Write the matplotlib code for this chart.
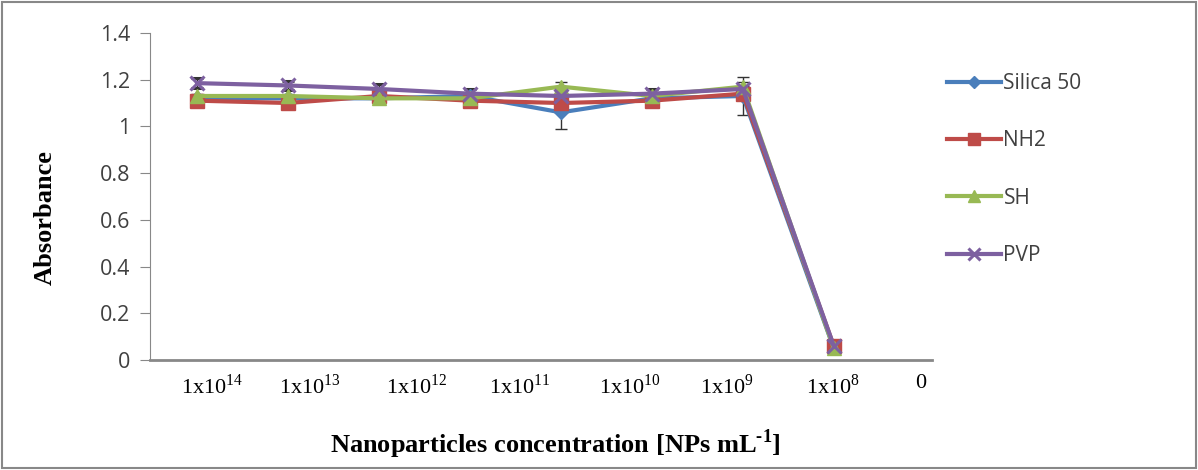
import matplotlib
matplotlib.use('Agg')
import matplotlib.pyplot as plt
from matplotlib.patches import Rectangle
import numpy as np

plt.rcParams['mathtext.fontset'] = 'custom'
plt.rcParams['mathtext.rm'] = 'Liberation Serif'
plt.rcParams['mathtext.bf'] = 'Liberation Serif:bold'

# data
categories = ['1x10$^{14}$', '1x10$^{13}$', '1x10$^{12}$', '1x10$^{11}$',
              '1x10$^{10}$', '1x10$^{9}$', '1x10$^{8}$', '0']
silica50 = [1.12, 1.12, 1.12, 1.13, 1.06, 1.12, 1.13, 0.05]
silica50_err = [0.01, 0.01, 0.01, 0.01, 0.07, 0.01, 0.08, 0.01]
nh2 = [1.11, 1.10, 1.13, 1.11, 1.10, 1.11, 1.14, 0.06]
nh2_err = [0.01, 0.01, 0.01, 0.01, 0.01, 0.01, 0.01, 0.01]
sh = [1.13, 1.13, 1.12, 1.12, 1.17, 1.13, 1.17, 0.05]
sh_err = [0.01, 0.01, 0.01, 0.01, 0.02, 0.01, 0.02, 0.01]
pvp = [1.185, 1.175, 1.16, 1.14, 1.13, 1.14, 1.16, 0.06]
pvp_err = [0.02, 0.02, 0.02, 0.02, 0.01, 0.02, 0.01, 0.01]

series = [('Silica 50', silica50, silica50_err, '#4A7EBB', 'D', 7),
          ('NH2', nh2, nh2_err, '#BE4B48', 's', 10),
          ('SH', sh, sh_err, '#98B954', '^', 10),
          ('PVP', pvp, pvp_err, '#7D60A0', 'x', 10)]

fig = plt.figure(figsize=(11.98, 4.70), dpi=100)
ax = fig.add_axes([0.125, 0.234, 0.653, 0.696])

# the points sit on the first 8 category slots; labels are offset like the original
x = np.arange(len(silica50))
for name, vals, err, col, mk, ms in series:
    ax.errorbar(x, vals, yerr=err, color=col, marker=mk, markersize=ms,
                markeredgewidth=2.2 if mk == 'x' else 1, linewidth=3,
                ecolor='#333333', elinewidth=1, capsize=4, label=name)

ax.set_ylim(0, 1.4)
ax.set_xlim(-0.52, 8.08)
ax.set_yticks(np.arange(0, 1.41, 0.2))
ax.set_yticklabels(['0', '0.2', '0.4', '0.6', '0.8', '1', '1.2', '1.4'],
                   fontsize=15.5, color='#404040', family='Open Sans')
ax.tick_params(axis='y', length=7, color='#888888', pad=7)
ax.tick_params(axis='x', length=0, pad=10)
label_pos = [0.16, 1.24, 2.42, 3.55, 4.76, 5.82, 6.99, 7.95]
ax.set_xticks(label_pos)
ax.set_xticklabels(categories, fontsize=16, family='Liberation Serif')
for s in ['top', 'right']:
    ax.spines[s].set_visible(False)
ax.spines['left'].set_color('#888888')
ax.spines['bottom'].set_color('#888888')
ax.spines['bottom'].set_linewidth(2)

ax.set_xlabel('Nanoparticles concentration [NPs mL$^{\\mathbf{\u20101}}$]',
              fontsize=19, fontweight='bold', family='Liberation Serif')
ax.xaxis.set_label_coords(0.519, -0.205)
ax.set_ylabel('Absorbance', fontsize=19, fontweight='bold', family='Liberation Serif')
ax.yaxis.set_label_coords(-0.119, 0.437)

handles, labels = ax.get_legend_handles_labels()
handles = [h[0] for h in handles]
leg = ax.legend(handles, labels, loc='upper left', bbox_to_anchor=(0.775, 0.885),
                bbox_transform=fig.transFigure, frameon=False, handlelength=2.6,
                handletextpad=0.1, labelspacing=1.75, markerscale=0.9,
                prop={'family': 'Open Sans', 'size': 15})
for t in leg.get_texts():
    t.set_color('#404040')

fig.patches.append(Rectangle((0.002, 0.004), 0.996, 0.992, transform=fig.transFigure,
                             fill=False, edgecolor='#888888', linewidth=1.5))

fig.savefig('out.png', dpi=100)
